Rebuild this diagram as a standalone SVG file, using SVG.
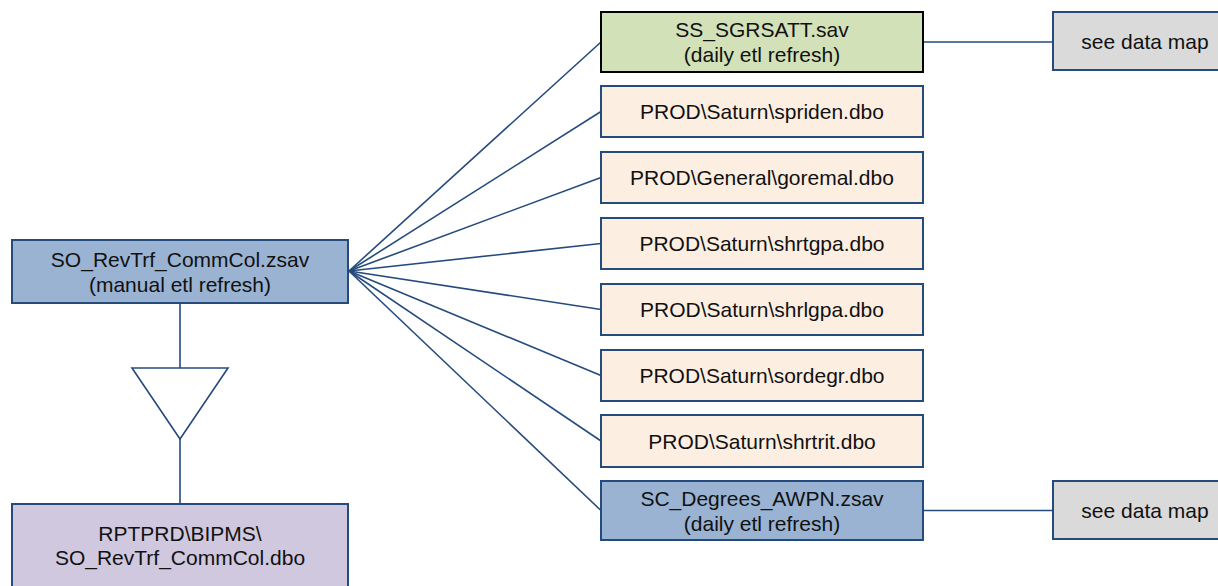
<svg xmlns="http://www.w3.org/2000/svg" width="1218" height="586" viewBox="0 0 1218 586">
<style>
  .box { stroke: #254b7d; stroke-width: 2; }
  .blue { fill: #9ab3d3; }
  .salmon { fill: #fdeee2; }
  .green { fill: #d3e1b8; stroke: #000000; stroke-width: 2; }
  .gray { fill: #dadada; }
  .purple { fill: #d0c8de; }
  .t { font-family: "Liberation Sans", Arial, sans-serif; font-size: 21px; fill: #111111; text-anchor: middle; }
  .conn { stroke: #254b7d; stroke-width: 1.6; fill: none; }
</style>
<rect width="1218" height="586" fill="#ffffff"/>
<g id="connectors">
  <line class="conn" x1="180" y1="303" x2="180" y2="368"/>
  <polygon class="conn" points="132,368 228,368 180,439" fill="#ffffff" style="fill:#ffffff"/>
  <line class="conn" x1="180" y1="439" x2="180" y2="504"/>
  <line class="conn" x1="349" y1="271" x2="601" y2="42"/>
  <line class="conn" x1="349" y1="271" x2="601" y2="111.5"/>
  <line class="conn" x1="349" y1="271" x2="601" y2="177.5"/>
  <line class="conn" x1="349" y1="271" x2="601" y2="243.5"/>
  <line class="conn" x1="349" y1="271" x2="601" y2="309.5"/>
  <line class="conn" x1="349" y1="271" x2="601" y2="375.5"/>
  <line class="conn" x1="349" y1="271" x2="601" y2="441"/>
  <line class="conn" x1="349" y1="271" x2="601" y2="510.5"/>
  <line class="conn" x1="924" y1="42" x2="1053" y2="42"/>
  <line class="conn" x1="924" y1="510.5" x2="1053" y2="510.5"/>
</g>
<g id="main">
  <rect class="box blue" x="12" y="240" width="336" height="63"/>
  <text class="t" x="180" y="266.5">SO_RevTrf_CommCol.zsav</text>
  <text class="t" x="180" y="291.5">(manual etl refresh)</text>
</g>
<g id="target">
  <rect class="box purple" x="12" y="504" width="336" height="100"/>
  <text class="t" x="180" y="541">RPTPRD\BIPMS\</text>
  <text class="t" x="180" y="565">SO_RevTrf_CommCol.dbo</text>
</g>
<g id="ss_sgrsatt">
  <rect class="green" x="601" y="12" width="322" height="60"/>
  <text class="t" x="762" y="37">SS_SGRSATT.sav</text>
  <text class="t" x="762" y="62">(daily etl refresh)</text>
</g>
<g id="spriden">
  <rect class="box salmon" x="601" y="86" width="322" height="51"/>
  <text class="t" x="762" y="119">PROD\Saturn\spriden.dbo</text>
</g>
<g id="goremal">
  <rect class="box salmon" x="601" y="152" width="322" height="51"/>
  <text class="t" x="762" y="185">PROD\General\goremal.dbo</text>
</g>
<g id="shrtgpa">
  <rect class="box salmon" x="601" y="218" width="322" height="51"/>
  <text class="t" x="762" y="251">PROD\Saturn\shrtgpa.dbo</text>
</g>
<g id="shrlgpa">
  <rect class="box salmon" x="601" y="284" width="322" height="51"/>
  <text class="t" x="762" y="317">PROD\Saturn\shrlgpa.dbo</text>
</g>
<g id="sordegr">
  <rect class="box salmon" x="601" y="350" width="322" height="51"/>
  <text class="t" x="762" y="383">PROD\Saturn\sordegr.dbo</text>
</g>
<g id="shrtrit">
  <rect class="box salmon" x="601" y="415" width="322" height="52"/>
  <text class="t" x="762" y="448.5">PROD\Saturn\shrtrit.dbo</text>
</g>
<g id="sc_degrees">
  <rect class="box blue" x="601" y="481" width="322" height="59"/>
  <text class="t" x="762" y="505.5">SC_Degrees_AWPN.zsav</text>
  <text class="t" x="762" y="530.5">(daily etl refresh)</text>
</g>
<g id="datamap1">
  <rect class="box gray" x="1053" y="12" width="184" height="58"/>
  <text class="t" x="1145" y="49">see data map</text>
</g>
<g id="datamap2">
  <rect class="box gray" x="1053" y="481" width="184" height="58"/>
  <text class="t" x="1145" y="518">see data map</text>
</g>
</svg>
